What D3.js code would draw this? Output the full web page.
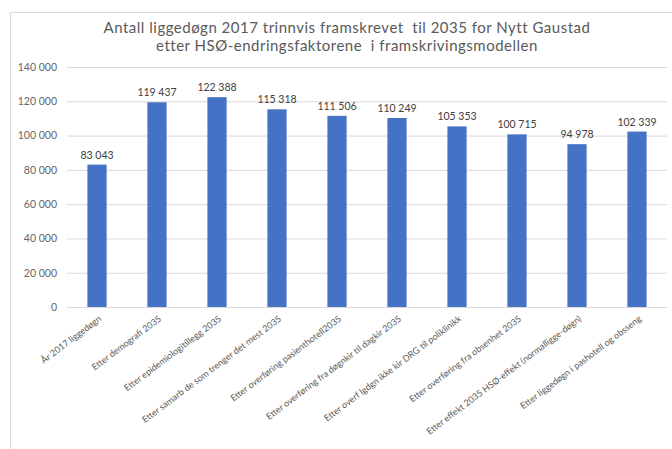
<!DOCTYPE html>
<html>
<head>
<meta charset="utf-8">
<script src="https://cdn.jsdelivr.net/npm/d3@7"></script>
<style>
  html, body { margin: 0; padding: 0; background: #fff; }
  svg { display: block; }
  text { font-family: Lato, "Open Sans", sans-serif; white-space: pre; }
</style>
</head>
<body>
<svg id="chart" width="672" height="449"></svg>
<script>
// Hospital bed-days, step-by-step projection to 2035
const categories = [
  "År 2017 liggedøgn",
  "Etter demografi 2035",
  "Etter epidemiologitillegg 2035",
  "Etter samarb de som trenger det mest 2035",
  "Etter overføring pasienthotell2035",
  "Etter overføring fra døgnkir til dagkir 2035",
  "Etter overf lgdgn ikke kir DRG til poliklinikk",
  "Etter overføring fra obsenhet 2035",
  "Etter effekt 2035 HSØ-effekt (normalligge-døgn)",
  "Etter liggedøgn i pashotell og obsseng"
];
const values = [83043, 119437, 122388, 115318, 111506, 110249, 105353, 100715, 94978, 102339];
const yTicks = [0, 20000, 40000, 60000, 80000, 100000, 120000, 140000];
const titleLines = [
  "Antall liggedøgn 2017 trinnvis framskrevet  til 2035 for Nytt Gaustad",
  "etter HSØ-endringsfaktorene  i framskrivingsmodellen"
];

const svg = d3.select("#chart");
const margin = { left: 67, right: 5, top: 67, bottom: 142 };
const W = 672, H = 449;

const nb = d3.formatLocale({ decimal: ",", thousands: "\u00a0", grouping: [3], currency: ["", ""] });
const fmt = nb.format(",d");

// chart frame (top and left edges visible)
svg.append("path")
  .attr("d", `M10.5,${H} V12.5 H${W}`)
  .attr("fill", "none").attr("stroke", "#d9d9d9");

const x = d3.scaleBand().domain(categories).range([margin.left, W - margin.right]).paddingInner(0.68).paddingOuter(0.34);
const y = d3.scaleLinear().domain([0, 140000]).range([H - margin.bottom, margin.top]);

// title
svg.append("g").selectAll("text").data(titleLines).join("text")
  .attr("x", 347).attr("y", (d, i) => 33 + i * 18)
  .attr("text-anchor", "middle")
  .attr("font-size", 15).attr("letter-spacing", 0.5).attr("fill", "#595959")
  .text(d => d);

// gridlines + y labels
const yAxis = d3.axisLeft(y).tickValues(yTicks).tickFormat(fmt)
  .tickSize(-(W - margin.right - margin.left)).tickPadding(10);
const gy = svg.append("g").attr("transform", `translate(${margin.left},0)`).call(yAxis);
gy.select(".domain").remove();
gy.selectAll(".tick line").attr("stroke", "#d9d9d9");
gy.selectAll(".tick text").attr("fill", "#666").attr("font-size", 10.5).attr("font-family", "Lato, sans-serif");

// category axis
const xAxis = d3.axisBottom(x).tickSize(0).tickPadding(0);
const gx = svg.append("g").attr("transform", `translate(0,${y(0)})`).call(xAxis);
gx.select(".domain").attr("stroke", "#d9d9d9").attr("d", `M${margin.left},0.5H${W - margin.right}`);
gx.selectAll(".tick text")
  .attr("fill", "#595959").attr("font-size", 9).attr("font-family", "Lato, sans-serif")
  .attr("text-anchor", "end")
  .attr("dy", null).attr("y", 0)
  .attr("transform", "translate(5,13) rotate(-37)");

// bars
svg.append("g").selectAll("rect").data(values).join("rect")
  .attr("x", (d, i) => x(categories[i]))
  .attr("width", x.bandwidth())
  .attr("y", d => y(d))
  .attr("height", d => y(0) - y(d))
  .attr("fill", "#4472c4");

// value labels
svg.append("g").selectAll("text").data(values).join("text")
  .attr("x", (d, i) => x(categories[i]) + x.bandwidth() / 2)
  .attr("y", d => y(d) - 6)
  .attr("text-anchor", "middle")
  .attr("font-size", 10.5).attr("fill", "#404040")
  .text(d => fmt(d));
</script>
</body>
</html>
